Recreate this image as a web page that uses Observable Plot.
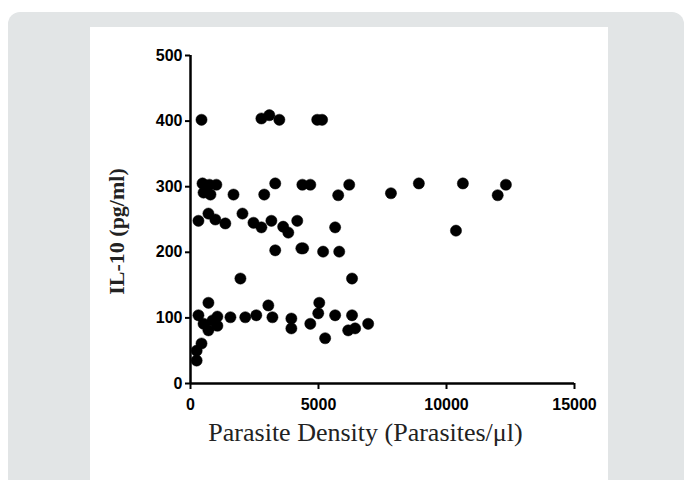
<!DOCTYPE html>
<html><head><meta charset="utf-8">
<script src="https://cdn.jsdelivr.net/npm/d3@7"></script>
<script src="https://cdn.jsdelivr.net/npm/@observablehq/plot@0.6"></script>
<style>
html,body{margin:0;padding:0;background:#fff;}
#wrap{position:relative;width:686px;height:480px;overflow:hidden;}
#grey{position:absolute;left:8px;top:12px;width:676px;height:500px;background:#e2e5e6;border-radius:12px;}
#panel{position:absolute;left:90px;top:27px;width:518px;height:470px;background:#fff;}
#chart{position:absolute;left:0;top:0;}
</style></head><body>
<div id="wrap"><div id="grey"></div><div id="panel"></div><div id="chart"></div></div>
<script>
// Parasite density (parasites/µl) and IL-10 (pg/ml)
const density = [
  430, 2770, 3080, 3470, 4950, 5140,
  470, 740, 1010, 510, 780, 1680, 2880, 3310, 4370, 4680, 5770, 6200, 7830, 8920, 10640, 12000, 12320,
  310, 700, 970, 1360, 2030, 2460, 2770, 3160, 3620, 3820, 4170, 5650, 10370,
  3310, 4330, 4400, 5180, 5810,
  1950, 6310,
  700, 310, 510, 700, 1050, 1050, 860, 1560, 2140, 2570, 3040, 3200, 3940, 3940, 4680, 4990, 5030, 5260, 5650, 6310, 6160, 6430, 6940,
  430, 240, 240
];
const il10 = [
  402, 404, 409, 402, 402, 402,
  305, 303, 303, 291, 288, 288, 288, 305, 303, 303, 287, 303, 290, 305, 305, 287, 303,
  248, 259, 250, 244, 259, 245, 238, 248, 239, 230, 248, 238, 233,
  203, 206, 206, 201, 201,
  160, 160,
  123, 104, 91, 81, 102, 88, 96, 101, 101, 104, 119, 101, 99, 84, 91, 107, 123, 69, 104, 104, 81, 84, 91,
  61, 50, 35
];
const xTicks = [0, 5000, 10000, 15000];
const yTicks = [0, 100, 200, 300, 400, 500];
const xTitle = "Parasite Density (Parasites/\u03bcl)";
const yTitle = "IL-10 (pg/ml)";

const points = density.map((d, i) => ({x: d, y: il10[i]}));
const tickFont = "'Liberation Sans', Arial, sans-serif";
const serif = "'Liberation Serif', 'Times New Roman', serif";

const chart = Plot.plot({
  width: 686, height: 480,
  marginLeft: 190, marginRight: 112, marginTop: 55, marginBottom: 97,
  style: {background: "transparent", overflow: "visible", color: "black"},
  x: {domain: [0, 15000]},
  y: {domain: [0, 500]},
  marks: [
    Plot.axisX({ticks: xTicks, tickSize: 6, tickPadding: 9, tickFormat: "d", label: null,
      fontFamily: tickFont, fontWeight: "bold", fontSize: 16, strokeWidth: 2, color: "black"}),
    Plot.axisY({ticks: yTicks, tickSize: 5, tickPadding: 3, tickFormat: "d", label: null,
      fontFamily: tickFont, fontWeight: "bold", fontSize: 16, strokeWidth: 2, color: "black"}),
    Plot.ruleY([0], {stroke: "black", strokeWidth: 2.5}),
    Plot.ruleX([0], {stroke: "black", strokeWidth: 2.5}),
    Plot.dot(points, {x: "x", y: "y", r: 5.6, fill: "black", stroke: "black", strokeWidth: 0.5}),
    Plot.text([xTitle], {text: d => d, frameAnchor: "bottom", textAnchor: "middle", lineAnchor: "middle", dy: 49, dx: -17,
      fontFamily: serif, fontSize: 26, fill: "#222"}),
    Plot.text([yTitle], {text: d => d, frameAnchor: "left", textAnchor: "middle", lineAnchor: "middle", dx: -74, dy: 12, rotate: -90,
      fontFamily: serif, fontSize: 22, fontWeight: "bold", fill: "#222"})
  ]
});
document.getElementById("chart").appendChild(chart);
</script>
</body></html>
